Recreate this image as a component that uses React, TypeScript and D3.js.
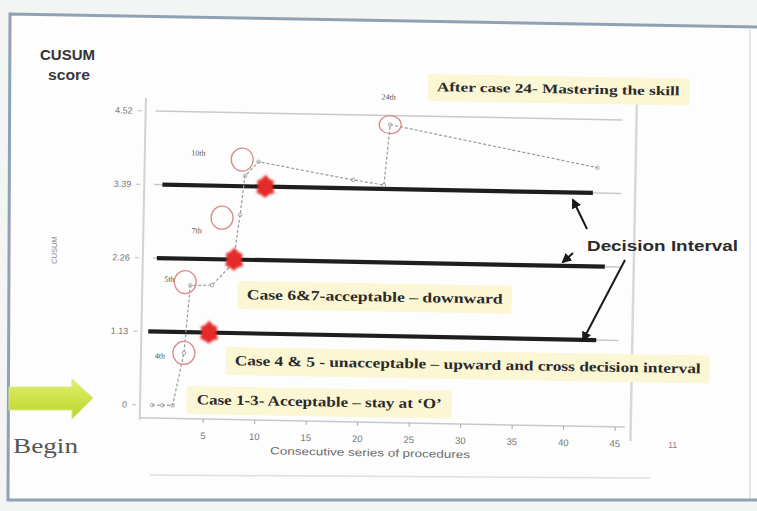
import React from 'react';
import * as d3 from 'd3';

// ---- data ----
const xTicks = [5, 10, 15, 20, 25, 30, 35, 40, 45];
const yTicks = [0, 1.13, 2.26, 3.39, 4.52];
const yTickLabels = ['0', '1.13', '2.26', '3.39', '4.52'];
const gridValues = [1.13, 2.26, 3.39, 4.52];
const decisionValues = [1.13, 2.26, 3.39];
const decisionStart = [-0.5, 0.2, 0.6];
const decisionEnd = [43.0, 43.7, 42.4];
const caseX = [0, 1, 2, 3, 3.5, 5.6, 7.6, 8.2, 8.6, 9.9, 19.1, 22.1, 22.6, 42.8];
const cusum = [0, 0, 0, 0.81, 1.85, 1.86, 2.2, 2.95, 3.55, 3.77, 3.52, 3.45, 4.38, 3.78];
const circleLabels = ['4th', '5th', '7th', '10th', '24th'];
const circleX = [3.0, 3.0, 6.45, 8.3, 22.6];
const circleY = [0.81, 1.9, 2.9, 3.8, 4.38];
const hitX = [5.4, 7.7, 10.6];
const hitY = [1.13, 2.26, 3.39];
const noteTexts = [
  'After case 24- Mastering the skill',
  'Case 6&7-acceptable \u2013 downward',
  'Case 4 & 5 - unacceptable \u2013 upward and cross decision interval',
  'Case 1-3- Acceptable \u2013 stay at \u2018O\u2019',
];
const decisionLabel = 'Decision Interval';
const yTitle = 'CUSUM';
const xTitle = 'Consecutive series of procedures';

export default function App() {
  const x = d3.scaleLinear().domain([0, 45]).range([152, 615.5]);
  const y = d3.scaleLinear().domain([0, 4.52]).range([405, 111]);
  const pts: [number, number][] = caseX.map((c, i) => [x(c), y(cusum[i])]);
  const line = d3.line();

  // jagged splotch shape
  const radii = [12, 9, 11.5, 8.5, 12.5, 9, 11, 9.5, 12, 8.5, 11.5, 9];
  const splotch = d3
    .lineRadial<number>()
    .angle((_, i) => (i / radii.length) * Math.PI * 2)
    .radius((r) => r)
    .curve(d3.curveLinearClosed)(radii) as string;

  const labelOffsets = [
    [-24, 3],
    [-16, -3],
    [-25, 13],
    [-44, -6],
    [-2, -28],
  ];

  const notePos = [
    { x: 437, y: 91, w: 243, bx: 428, by: 74, bw: 262, bh: 27, fs: 13 },
    { x: 247, y: 299, w: 256, bx: 238, by: 281, bw: 274, bh: 28, fs: 14 },
    { x: 235, y: 365, w: 466, bx: 226, by: 347, bw: 484, bh: 28, fs: 14 },
    { x: 197, y: 404, w: 245, bx: 187, by: 386, bw: 265, bh: 28, fs: 14 },
  ];

  const serif = '"Liberation Serif", "DejaVu Serif", serif';
  const sans = '"Liberation Sans", Arial, sans-serif';

  return (
    <svg
      width={757}
      height={511}
      viewBox="0 0 757 511"
      style={{ position: 'absolute', left: 0, top: 0, display: 'block' }}
    >
      <defs>
        <filter id="soft" x="-30%" y="-30%" width="160%" height="160%">
          <feGaussianBlur stdDeviation="1" />
        </filter>
        <marker id="ah" viewBox="0 0 10 10" refX="8" refY="5" markerWidth="5" markerHeight="5" orient="auto">
          <path d="M0,0 L10,5 L0,10 z" fill="#1a1a1a" />
        </marker>
        <linearGradient id="grn" x1="0" y1="0" x2="0" y2="1">
          <stop offset="0" stopColor="#e2f06a" />
          <stop offset="1" stopColor="#b9d52c" />
        </linearGradient>
      </defs>

      {/* page + slide frame */}
      <rect x={0} y={0} width={757} height={511} fill="#f3f4f4" />
      <path d="M757,27 L10,14 L8,500 L757,500 Z" fill="#fdfdfd" />
      <path d="M757,27 L10,14 L8,500 L757,500" fill="none" stroke="#8ea2b4" strokeWidth={3} />
      <line x1={750} y1={30} x2={750} y2={498} stroke="#e2e4e6" strokeWidth={2} />
      <line x1={150} y1={475} x2={650} y2={478} stroke="#e0e0e0" strokeWidth={1.5} />

      {/* chart, slightly rotated like the photo */}
      <g transform="rotate(1.1 150 405)">
        {/* frame */}
        <line x1={140} y1={98} x2={140} y2={420} stroke="#d2d2d2" strokeWidth={2} />
        <line x1={140} y1={418} x2={625} y2={418} stroke="#c8c8c8" strokeWidth={1.5} />
        <line x1={631} y1={92} x2={631} y2={432} stroke="#d8d8d8" strokeWidth={2.5} />

        {/* gridlines */}
        {gridValues.map((v) => (
          <line key={v} x1={150} x2={617} y1={y(v)} y2={y(v)} stroke="#c9c9c9" strokeWidth={1.5} />
        ))}

        {/* y ticks */}
        {yTicks.map((v, i) => (
          <g key={v}>
            <line x1={132} x2={136} y1={y(v)} y2={y(v)} stroke="#bbb" />
            <text x={127} y={y(v) + 3} textAnchor="end" fontFamily={sans} fontSize={9} fill="#7a7a7a">
              {yTickLabels[i]}
            </text>
          </g>
        ))}
        <text
          transform={`translate(54,252) rotate(-90)`}
          textAnchor="middle"
          fontFamily={sans}
          fontSize={7.5}
          fill="#8a8a8a"
        >
          {yTitle}
        </text>

        {/* x ticks */}
        {xTicks.map((v) => (
          <g key={v}>
            <line x1={x(v)} x2={x(v)} y1={418} y2={422} stroke="#aaa" />
            <text x={x(v)} y={438} textAnchor="middle" fontFamily={sans} fontSize={9.5} fill="#777">
              {v}
            </text>
          </g>
        ))}
        <text x={371} y={452} textAnchor="middle" fontFamily={sans} fontSize={10.5} fill="#6a6a6a" textLength={200} lengthAdjust="spacingAndGlyphs">
          {xTitle}
        </text>

        {/* decision interval lines */}
        {decisionValues.map((v, i) => (
          <line
            key={v}
            x1={x(decisionStart[i])}
            x2={x(decisionEnd[i])}
            y1={y(v)}
            y2={y(v)}
            stroke="#1e1e1e"
            strokeWidth={4.2}
          />
        ))}

        {/* CUSUM series */}
        <path d={line(pts) as string} fill="none" stroke="#9a9a9a" strokeWidth={1.2} strokeDasharray="3,2" />
        {pts.map((p, i) => (
          <circle key={i} cx={p[0]} cy={p[1]} r={1.8} fill="none" stroke="#a5a5a5" strokeWidth={0.9} />
        ))}

        {/* splotches */}
        {hitX.map((hx, i) => (
          <path
            key={i}
            d={splotch}
            transform={`translate(${x(hx)},${y(hitY[i])}) scale(0.85,1)`}
            fill="#e62a2a"
            filter="url(#soft)"
          />
        ))}

        {/* highlighted cases */}
        {circleX.map((cx, i) => (
          <g key={i}>
            <ellipse
              cx={x(cx)}
              cy={y(circleY[i])}
              rx={11}
              ry={i === 4 ? 9 : 11.5}
              fill="none"
              stroke="#d98c8c"
              strokeWidth={1.3}
            />
            <text
              x={x(cx) + labelOffsets[i][0]}
              y={y(circleY[i]) + labelOffsets[i][1] + 3}
              textAnchor="middle"
              fontFamily={serif}
              fontSize={8}
              fill="#555"
            >
              {circleLabels[i]}
            </text>
          </g>
        ))}
      </g>

      {/* annotation notes */}
      {noteTexts.map((t, i) => {
        const p = notePos[i];
        return (
          <g key={i} transform={`rotate(1 ${p.bx} ${p.by})`}>
            <rect x={p.bx} y={p.by} width={p.bw} height={p.bh} rx={3} fill="#fbf6d4" />
            <text
              x={p.x}
              y={p.y}
              fontFamily={serif}
              fontWeight="bold"
              fontSize={p.fs}
              fill="#2a2a2a"
              textLength={p.w}
              lengthAdjust="spacingAndGlyphs"
            >
              {t}
            </text>
          </g>
        );
      })}

      {/* decision interval label + arrows */}
      <text x={587} y={251} fontFamily={sans} fontWeight="bold" fontSize={15} fill="#2b2b2b" textLength={151} lengthAdjust="spacingAndGlyphs">
        {decisionLabel}
      </text>
      <line x1={587} y1={229} x2={573} y2={200} stroke="#1a1a1a" strokeWidth={2} markerEnd="url(#ah)" />
      <line x1={573} y1={253} x2={563} y2={262} stroke="#1a1a1a" strokeWidth={2} markerEnd="url(#ah)" />
      <line x1={625} y1={260} x2={583} y2={340} stroke="#1a1a1a" strokeWidth={2} markerEnd="url(#ah)" />

      {/* CUSUM score heading */}
      <text x={40} y={60} fontFamily={sans} fontWeight="bold" fontSize={15} fill="#333" textLength={55} lengthAdjust="spacingAndGlyphs">
        CUSUM
      </text>
      <text x={48} y={80} fontFamily={sans} fontWeight="bold" fontSize={14} fill="#3a3a3a" textLength={42} lengthAdjust="spacingAndGlyphs">
        score
      </text>

      {/* begin arrow */}
      <path d="M9,387 L72,387 L72,379 L93,398 L72,419 L72,410 L9,410 Z" fill="url(#grn)" stroke="#d6e88a" strokeWidth={1} />
      <text x={13} y={453} fontFamily={serif} fontSize={20} fill="#555" textLength={65} lengthAdjust="spacingAndGlyphs">
        Begin
      </text>
      <text x={668} y={448} fontFamily={sans} fontSize={9} fill="#888">
        11
      </text>
    </svg>
  );
}
